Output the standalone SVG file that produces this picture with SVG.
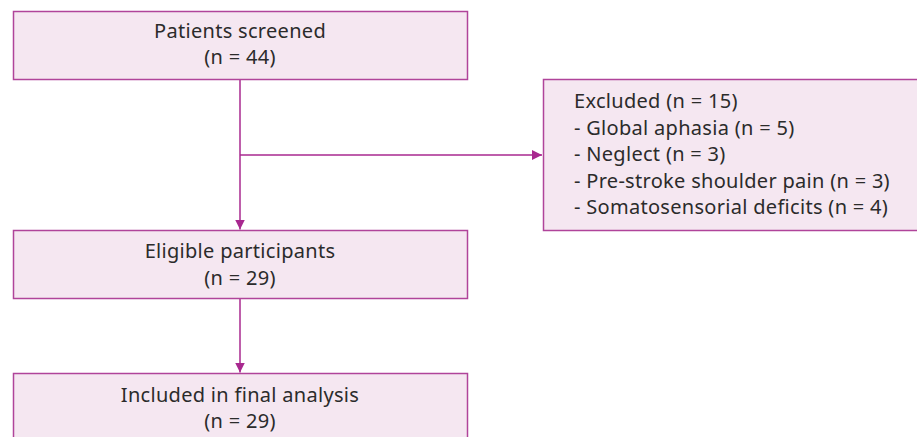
<svg xmlns="http://www.w3.org/2000/svg" width="917" height="437" viewBox="0 0 917 437">
<defs>
<style>
.box{fill:#f5e7f1;stroke:#b0449a;stroke-width:1.5}
.t{font-family:"Noto Sans","Open Sans",sans-serif;font-size:20px;fill:#2b2b2b;letter-spacing:0.3px}
.c{text-anchor:middle}
.ln{stroke:#a8288f;stroke-width:1.5;fill:none}
</style>
<marker id="ah" viewBox="0 0 10 10" refX="10" refY="5" markerWidth="10" markerHeight="10" markerUnits="userSpaceOnUse" orient="auto">
<path d="M0,0 L10,5 L0,10 z" fill="#a8288f"/>
</marker>
</defs>
<rect width="917" height="437" fill="#ffffff"/>
<g id="connectors">
<line class="ln" x1="240" y1="79" x2="240" y2="229.5" marker-end="url(#ah)"/>
<line class="ln" x1="240" y1="155" x2="542" y2="155" marker-end="url(#ah)"/>
<line class="ln" x1="240" y1="298" x2="240" y2="372.5" marker-end="url(#ah)"/>
</g>
<g id="screened">
<rect class="box" x="13.5" y="11.5" width="454" height="68"/>
<text class="t c" x="240" y="38">Patients screened</text>
<text class="t c" x="240" y="64">(n = 44)</text>
</g>
<g id="excluded">
<rect class="box" x="543.5" y="79.5" width="390" height="151"/>
<text class="t" x="574" y="108">Excluded (n = 15)</text>
<text class="t" x="574" y="134.5">- Global aphasia (n = 5)</text>
<text class="t" x="574" y="161">- Neglect (n = 3)</text>
<text class="t" x="574" y="187.5">- Pre-stroke shoulder pain (n = 3)</text>
<text class="t" x="574" y="214">- Somatosensorial deficits (n = 4)</text>
</g>
<g id="eligible">
<rect class="box" x="13.5" y="230.5" width="454" height="68"/>
<text class="t c" x="240" y="258">Eligible participants</text>
<text class="t c" x="240" y="285">(n = 29)</text>
</g>
<g id="included">
<rect class="box" x="13.5" y="373.5" width="454" height="80"/>
<text class="t c" x="240" y="401.5">Included in final analysis</text>
<text class="t c" x="240" y="428">(n = 29)</text>
</g>
</svg>
